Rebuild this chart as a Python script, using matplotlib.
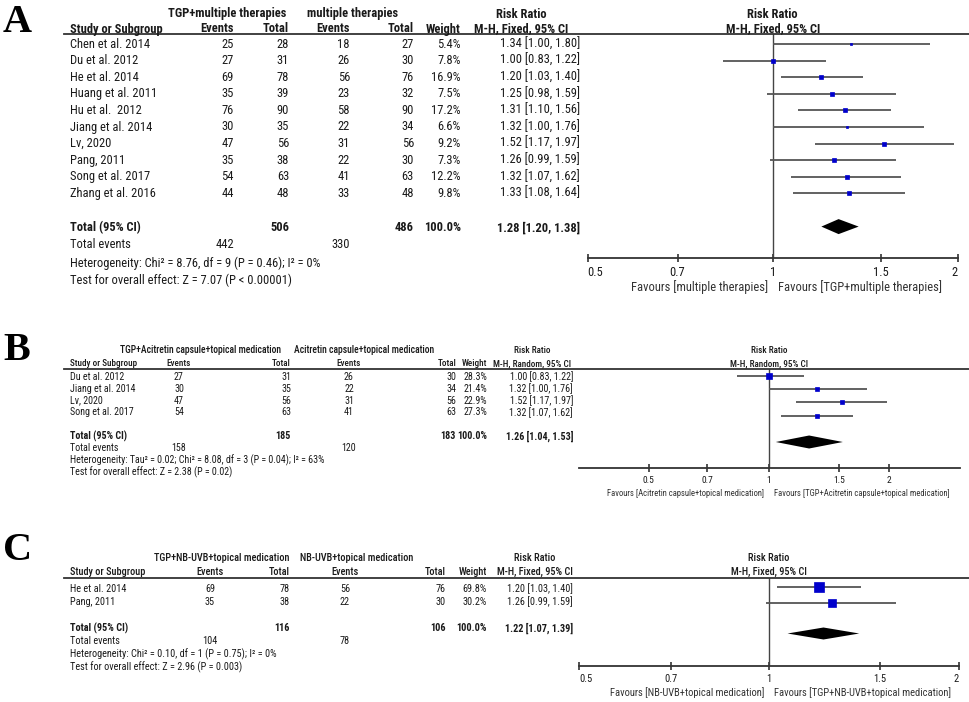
import numpy as np
import matplotlib.pyplot as plt
from matplotlib.lines import Line2D
from matplotlib.ticker import NullLocator

W, H = 969, 702
plt.rcParams['font.family'] = ['Roboto Condensed', 'Liberation Sans', 'DejaVu Sans']

# ---- panel A: TGP + multiple therapies vs multiple therapies
a_study = ['Chen et al. 2014', 'Du et al. 2012', 'He et al. 2014', 'Huang et al. 2011',
           'Hu et al.  2012', 'Jiang et al. 2014', 'Lv, 2020', 'Pang, 2011',
           'Song et al. 2017', 'Zhang et al. 2016']
a_e1 = [25, 27, 69, 35, 76, 30, 47, 35, 54, 44]
a_n1 = [28, 31, 78, 39, 90, 35, 56, 38, 63, 48]
a_e2 = [18, 26, 56, 23, 58, 22, 31, 22, 41, 33]
a_n2 = [27, 30, 76, 32, 90, 34, 56, 30, 63, 48]
a_w = [5.4, 7.8, 16.9, 7.5, 17.2, 6.6, 9.2, 7.3, 12.2, 9.8]
a_rr = [1.34, 1.00, 1.20, 1.25, 1.31, 1.32, 1.52, 1.26, 1.32, 1.33]
a_lo = [1.00, 0.83, 1.03, 0.98, 1.10, 1.00, 1.17, 0.99, 1.07, 1.08]
a_hi = [1.80, 1.22, 1.40, 1.59, 1.56, 1.76, 1.97, 1.59, 1.62, 1.64]
a_tot = [1.28, 1.20, 1.38]
a_sum = [506, 486, 442, 330]

# ---- panel B: TGP + acitretin capsule + topical medication
b_study = ['Du et al. 2012', 'Jiang et al. 2014', 'Lv, 2020', 'Song et al. 2017']
b_e1 = [27, 30, 47, 54]
b_n1 = [31, 35, 56, 63]
b_e2 = [26, 22, 31, 41]
b_n2 = [30, 34, 56, 63]
b_w = [28.3, 21.4, 22.9, 27.3]
b_rr = [1.00, 1.32, 1.52, 1.32]
b_lo = [0.83, 1.00, 1.17, 1.07]
b_hi = [1.22, 1.76, 1.97, 1.62]
b_tot = [1.26, 1.04, 1.53]
b_sum = [185, 183, 158, 120]

# ---- panel C: TGP + NB-UVB + topical medication
c_study = ['He et al. 2014', 'Pang, 2011']
c_e1 = [69, 35]
c_n1 = [78, 38]
c_e2 = [56, 22]
c_n2 = [76, 30]
c_w = [69.8, 30.2]
c_rr = [1.20, 1.26]
c_lo = [1.03, 0.99]
c_hi = [1.40, 1.59]
c_tot = [1.22, 1.07, 1.39]
c_sum = [116, 106, 104, 78]

ticks = [0.5, 0.7, 1, 1.5, 2]
tick_lab = ['0.5', '0.7', '1', '1.5', '2']

fig = plt.figure(figsize=(W / 100, H / 100), dpi=100)


def T(x, y, s, **kw):
    kw.setdefault('va', 'center')
    kw.setdefault('color', '#1a1a1a')
    fig.text(x / W, 1 - y / H, s, **kw)


def hline(x0, x1, y, lw=1.3, c='#333333'):
    fig.add_artist(Line2D([x0 / W, x1 / W], [1 - y / H, 1 - y / H], lw=lw, color=c))


def panel(L, letter, grp1, grp2, method, study, e1, n1, e2, n2, w, rr, lo, hi, tot, sums,
          het, test, fav1, fav2):
    fs, hfs, hw = L['fs'], L['hfs'], L['hw']
    c = L['cols']
    T(3, L['letter_y'], letter, family='Liberation Serif', weight='bold', size=29,
      va='baseline', color='black')
    # header
    y1, y2 = L['head']
    T(c['g1'], y1, grp1, size=L['gfs'], weight=hw, ha='center')
    T(c['g2'], y1, grp2, size=L['gfs'], weight=hw, ha='center')
    T(c['rr'], y1, 'Risk Ratio', size=hfs, weight=hw, ha='center')
    T(c['rr'], y2, method, size=hfs, weight=hw, ha='center')
    T(L['px1'], y1, 'Risk Ratio', size=hfs, weight=hw, ha='center')
    T(L['px1'], y2, method, size=hfs, weight=hw, ha='center')
    T(c['st'], y2, 'Study or Subgroup', size=hfs, weight=hw, ha='left')
    T(c['e1'], y2, 'Events', size=hfs, weight=hw, ha=L['eha'])
    T(c['n1'], y2, 'Total', size=hfs, weight=hw, ha='right')
    T(c['e2'], y2, 'Events', size=hfs, weight=hw, ha=L['eha'])
    T(c['n2'], y2, 'Total', size=hfs, weight=hw, ha='right')
    T(c['w'], y2, 'Weight', size=hfs, weight=hw, ha='right')
    hline(64, 969, L['line'])

    # study rows
    y0, dy = L['rows']
    for i in range(len(study)):
        y = y0 + dy * i
        T(c['st'], y, study[i], size=fs, ha='left')
        T(c['e1'], y, str(e1[i]), size=fs, ha=L['eha'])
        T(c['n1'], y, str(n1[i]), size=fs, ha='right')
        T(c['e2'], y, str(e2[i]), size=fs, ha=L['eha'])
        T(c['n2'], y, str(n2[i]), size=fs, ha='right')
        T(c['w'], y, '%.1f%%' % w[i], size=fs, ha='right')
        T(c['ci'], y, '%.2f [%.2f, %.2f]' % (rr[i], lo[i], hi[i]), size=fs, ha='right')

    yt, ye, yh, yz = L['foot']
    T(c['st'], yt, 'Total (95% CI)', size=fs, weight='bold', ha='left')
    T(c['n1'], yt, str(sums[0]), size=fs, weight='bold', ha='right')
    T(c['n2'], yt, str(sums[1]), size=fs, weight='bold', ha='right')
    T(c['w'], yt, '100.0%', size=fs, weight='bold', ha='right')
    T(c['ci'], yt, '%.2f [%.2f, %.2f]' % tuple(tot), size=fs, weight='bold', ha='right')
    T(c['st'], ye, 'Total events', size=fs, ha='left')
    T(c['e1'], ye, str(sums[2]), size=fs, ha=L['eha'])
    T(c['e2'], ye, str(sums[3]), size=fs, ha=L['eha'])
    T(c['st'], yh, het, size=fs, ha='left')
    T(c['st'], yz, test, size=fs, ha='left')

    # forest plot axes (log scale), rows in row units
    px1, k = L['px1'], L['k']
    xl = L['xlim']
    left = px1 + k * np.log(xl[0])
    width = k * np.log(xl[1] / xl[0])
    top, bot = L['line'], L['axis']
    fy0, fdy = L['frows']
    ax = fig.add_axes([left / W, 1 - bot / H, width / W, (bot - top) / H])
    ax.set_xscale('log')
    ax.set_xlim(xl)
    ax.set_ylim((bot - fy0) / fdy, (top - fy0) / fdy)
    ax.patch.set_alpha(0)
    for s in ['top', 'left', 'right']:
        ax.spines[s].set_visible(False)
    ax.spines['bottom'].set_color('#333333')
    ax.spines['bottom'].set_linewidth(1.3)
    ax.set_yticks([])
    ax.set_xticks(ticks)
    ax.set_xticklabels(tick_lab, fontsize=L['tfs'])
    ax.xaxis.set_minor_locator(NullLocator())
    ax.tick_params(axis='x', direction='inout', length=6, width=1.2, color='#333333',
                   pad=L['pad'], labelcolor='#1a1a1a')
    if L['edge']:
        lab = ax.get_xticklabels()
        lab[0].set_ha('left')
        lab[-1].set_ha('right')
    ax.axvline(1, color='#444444', lw=1.0)

    idx = np.arange(len(study))
    ax.hlines(idx, lo, hi, color='#555555', lw=1.3)
    for i in idx:
        side = L['sq'] * np.sqrt(w[i]) * 0.72
        ax.plot(rr[i], i, 's', ms=side, color='#0000cc', mec='#0000cc', mew=0.5)
    r = len(study) + 1
    hh = L['dia'] / fdy
    ax.fill([tot[1], tot[0], tot[2], tot[0]], [r, r - hh, r, r + hh], color='black', lw=0)

    T(px1 - 5, L['fav'], fav1, size=L['ffs'], ha='right', color='#333333')
    T(px1 + 5, L['fav'], fav2, size=L['ffs'], ha='left', color='#333333')


LA = dict(fs=9.0, hfs=9.0, gfs=9.0, hw='bold', tfs=9.0, ffs=9.0, letter_y=32, head=(14, 29), line=34,
          rows=(44, 16.6), foot=(228, 245, 263, 280), eha='right',
          cols=dict(st=70, e1=234, n1=289, e2=350, n2=414, w=461, ci=580, rr=521, g1=227, g2=353),
          px1=772.7, k=266.9, xlim=(0.5, 2), axis=258, frows=(44, 16.6), pad=3,
          edge=True, sq=1.15, dia=7.5, fav=287)
panel(LA, 'A', 'TGP+multiple therapies', 'multiple therapies', 'M-H, Fixed, 95% CI',
      a_study, a_e1, a_n1, a_e2, a_n2, a_w, a_rr, a_lo, a_hi, a_tot, a_sum,
      'Heterogeneity: Chi² = 8.76, df = 9 (P = 0.46); I² = 0%',
      'Test for overall effect: Z = 7.07 (P < 0.00001)',
      'Favours [multiple therapies]', 'Favours [TGP+multiple therapies]')

LB = dict(fs=7.2, hfs=6.6, gfs=6.9, hw='medium', tfs=6.8, ffs=6.2, letter_y=360, head=(350, 364), line=369,
          rows=(377, 11.8), foot=(436, 448, 460, 472), eha='center',
          cols=dict(st=70, e1=179, n1=291, e2=349, n2=456, w=487, ci=573, rr=532, g1=200, g2=364),
          px1=769, k=173.6, xlim=(0.335, 3.0), axis=468, frows=(376, 13.2), pad=2.5,
          edge=False, sq=0.95, dia=6.5, fav=493)
panel(LB, 'B', 'TGP+Acitretin capsule+topical medication', 'Acitretin capsule+topical medication',
      'M-H, Random, 95% CI',
      b_study, b_e1, b_n1, b_e2, b_n2, b_w, b_rr, b_lo, b_hi, b_tot, b_sum,
      'Heterogeneity: Tau² = 0.02; Chi² = 8.08, df = 3 (P = 0.04); I² = 63%',
      'Test for overall effect: Z = 2.38 (P = 0.02)',
      'Favours [Acitretin capsule+topical medication]', 'Favours [TGP+Acitretin capsule+topical medication]')

LC = dict(fs=7.4, hfs=7.4, gfs=7.4, hw='medium', tfs=7.6, ffs=7.6, letter_y=560, head=(558, 572), line=578,
          rows=(589, 13), foot=(628, 641, 654, 667), eha='center',
          cols=dict(st=70, e1=210, n1=290, e2=345, n2=446, w=487, ci=573, rr=535, g1=222, g2=357),
          px1=769, k=274, xlim=(0.5, 2), axis=665.7, frows=(587.3, 15.4), pad=3,
          edge=True, sq=1.3, dia=6, fav=693)
panel(LC, 'C', 'TGP+NB-UVB+topical medication', 'NB-UVB+topical medication', 'M-H, Fixed, 95% CI',
      c_study, c_e1, c_n1, c_e2, c_n2, c_w, c_rr, c_lo, c_hi, c_tot, c_sum,
      'Heterogeneity: Chi² = 0.10, df = 1 (P = 0.75); I² = 0%',
      'Test for overall effect: Z = 2.96 (P = 0.003)',
      'Favours [NB-UVB+topical medication]', 'Favours [TGP+NB-UVB+topical medication]')

fig.savefig('out.png', dpi=100)
